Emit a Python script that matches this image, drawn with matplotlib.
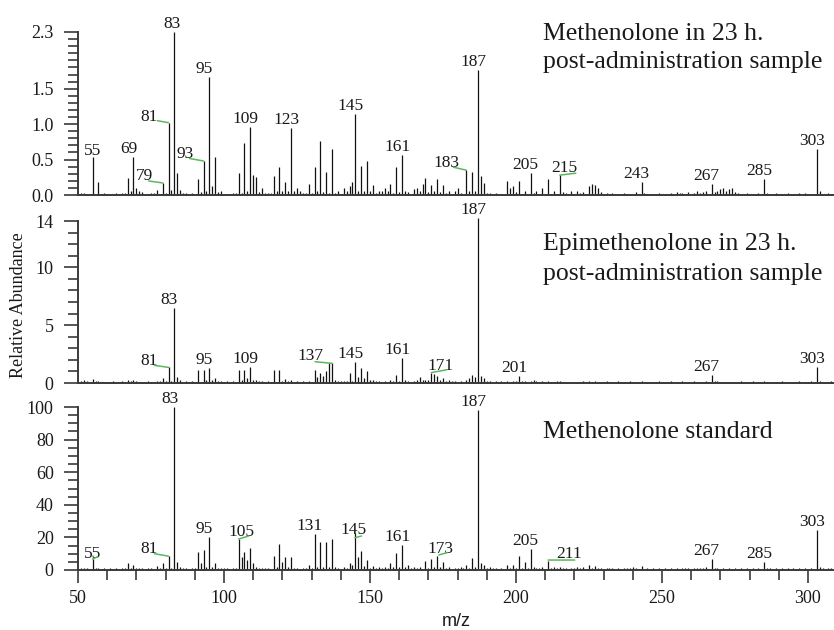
import matplotlib
matplotlib.use('Agg')
import matplotlib.pyplot as plt
from matplotlib.ticker import MultipleLocator, FixedLocator, FixedFormatter
from matplotlib.transforms import offset_copy

# ---------------- data ----------------
top_mz = [51, 52, 53, 55, 57, 59, 60, 63, 65, 66, 67, 68, 69, 70, 71, 72, 74, 75, 76, 77, 79, 80, 81, 82, 83, 84, 85, 86, 87, 89,
          91, 92, 93, 94, 95, 96, 97, 98, 99, 101, 103, 104, 105, 106, 107, 108, 109, 110, 111, 112, 113, 114, 115, 116, 117, 118,
          119, 120, 121, 122, 123, 124, 125, 126, 127, 128, 129, 130, 131, 132, 133, 134, 135, 136, 137, 138, 139, 141, 142, 143,
          144, 145, 146, 147, 148, 149, 150, 151, 152, 153, 154, 155, 156, 157, 158, 159, 160, 161, 162, 163, 165, 166, 167, 168,
          169, 170, 171, 172, 173, 174, 175, 176, 177, 179, 180, 181, 183, 184, 185, 186, 187, 188, 189, 190, 191, 192, 193, 197,
          198, 199, 200, 201, 203, 205, 206, 207, 209, 211, 213, 215, 216, 217, 219, 220, 221, 222, 223, 225, 226, 227, 228, 229,
          231, 232, 233, 235, 237, 238, 241, 243, 244, 245, 247, 249, 251, 253, 254, 255, 256, 257, 258, 259, 261, 262, 263, 264,
          265, 267, 268, 269, 270, 271, 272, 273, 274, 275, 276, 279, 281, 283, 285, 286, 287, 289, 291, 293, 295, 297, 299, 300,
          303, 304, 305, 307, 308]
top_int = [0.03, 0.03, 0.02, 0.53, 0.19, 0.03, 0.02, 0.03, 0.03, 0.03, 0.24, 0.05, 0.53, 0.10, 0.06, 0.04, 0.02, 0.03, 0.03, 0.07,
           0.17, 0.03, 1.02, 0.07, 2.30, 0.31, 0.07, 0.03, 0.03, 0.03, 0.22, 0.04, 0.48, 0.05, 1.66, 0.13, 0.53, 0.04, 0.06, 0.02,
           0.03, 0.03, 0.31, 0.03, 0.74, 0.05, 0.96, 0.28, 0.26, 0.04, 0.10, 0.03, 0.03, 0.03, 0.27, 0.05, 0.39, 0.06, 0.18, 0.05,
           0.95, 0.06, 0.10, 0.05, 0.03, 0.03, 0.15, 0.03, 0.39, 0.05, 0.76, 0.04, 0.32, 0.03, 0.65, 0.03, 0.05, 0.10, 0.05, 0.12,
           0.19, 1.15, 0.05, 0.41, 0.05, 0.48, 0.05, 0.14, 0.03, 0.06, 0.05, 0.10, 0.05, 0.15, 0.03, 0.39, 0.04, 0.56, 0.06, 0.04,
           0.08, 0.10, 0.06, 0.16, 0.24, 0.04, 0.14, 0.05, 0.22, 0.04, 0.14, 0.03, 0.06, 0.06, 0.10, 0.03, 0.35, 0.05, 0.32, 0.05,
           1.76, 0.27, 0.17, 0.03, 0.03, 0.02, 0.03, 0.20, 0.10, 0.12, 0.04, 0.20, 0.06, 0.31, 0.03, 0.06, 0.10, 0.22, 0.06, 0.28,
           0.04, 0.03, 0.05, 0.02, 0.05, 0.03, 0.04, 0.12, 0.15, 0.14, 0.10, 0.04, 0.03, 0.02, 0.03, 0.02, 0.03, 0.02, 0.04, 0.18,
           0.03, 0.02, 0.02, 0.03, 0.02, 0.03, 0.02, 0.04, 0.03, 0.03, 0.02, 0.04, 0.03, 0.05, 0.03, 0.04, 0.05, 0.15, 0.04, 0.06,
           0.09, 0.10, 0.06, 0.08, 0.10, 0.04, 0.03, 0.03, 0.02, 0.03, 0.23, 0.03, 0.02, 0.03, 0.02, 0.03, 0.02, 0.03, 0.03, 0.02,
           0.65, 0.05, 0.02, 0.03, 0.02]

mid_mz = [51, 52, 53, 55, 56, 57, 60, 62, 65, 67, 68, 69, 70, 72, 74, 75, 77, 78, 79, 80, 81, 82, 83, 84, 85, 87, 88, 89, 91, 93,
          94, 95, 96, 97, 98, 99, 100, 101, 103, 104, 105, 106, 107, 108, 109, 110, 111, 112, 113, 114, 115, 116, 117, 119, 120,
          121, 122, 123, 124, 125, 127, 128, 129, 131, 132, 133, 134, 135, 136, 137, 138, 139, 140, 141, 142, 143, 144, 145, 146,
          147, 148, 149, 150, 151, 152, 153, 155, 157, 158, 159, 160, 161, 162, 163, 165, 166, 167, 168, 169, 170, 171, 172, 173,
          174, 175, 176, 177, 178, 179, 181, 183, 184, 185, 186, 187, 188, 189, 190, 191, 193, 194, 195, 197, 199, 200, 201, 202,
          203, 205, 206, 207, 209, 211, 213, 214, 215, 217, 221, 223, 224, 225, 227, 229, 231, 233, 235, 237, 239, 241, 243, 245,
          247, 249, 251, 253, 255, 257, 259, 261, 263, 265, 267, 268, 269, 271, 275, 277, 279, 281, 283, 285, 289, 291, 295, 297,
          299, 301, 303, 304, 306, 308]
mid_int = [0.2, 0.3, 0.15, 0.35, 0.2, 0.2, 0.1, 0.15, 0.15, 0.25, 0.2, 0.3, 0.15, 0.1, 0.15, 0.1, 0.2, 0.15, 0.4, 0.2, 1.35, 0.2,
           6.5, 0.5, 0.25, 0.15, 0.1, 0.2, 1.1, 1.1, 0.25, 1.27, 0.3, 0.4, 0.15, 0.2, 0.1, 0.15, 0.15, 0.1, 1.1, 0.3, 1.1, 0.4, 1.4,
           0.3, 0.25, 0.15, 0.2, 0.1, 0.15, 0.1, 1.1, 1.1, 0.2, 0.35, 0.2, 0.25, 0.1, 0.2, 0.15, 0.1, 0.2, 1.1, 0.5, 0.85, 0.6, 1.0,
           1.7, 1.7, 0.3, 0.2, 0.15, 0.2, 0.15, 0.9, 0.2, 1.84, 0.5, 1.3, 0.4, 1.0, 0.25, 0.3, 0.15, 0.2, 0.15, 0.3, 0.15, 0.7, 0.2,
           2.2, 0.3, 0.2, 0.15, 0.3, 0.5, 0.3, 0.3, 0.25, 0.9, 0.8, 0.6, 0.3, 0.4, 0.2, 0.3, 0.15, 0.2, 0.15, 0.25, 0.4, 0.7, 0.5,
           14.3, 0.6, 0.4, 0.15, 0.2, 0.15, 0.1, 0.15, 0.2, 0.15, 0.2, 0.6, 0.15, 0.2, 0.15, 0.3, 0.2, 0.15, 0.2, 0.1, 0.15, 0.15,
           0.1, 0.1, 0.15, 0.1, 0.2, 0.15, 0.1, 0.15, 0.1, 0.15, 0.1, 0.15, 0.1, 0.15, 0.1, 0.1, 0.15, 0.1, 0.15, 0.1, 0.15, 0.1,
           0.15, 0.1, 0.2, 0.7, 0.15, 0.2, 0.1, 0.1, 0.15, 0.1, 0.15, 0.1, 0.15, 0.1, 0.15, 0.1, 0.15, 0.1, 0.15, 1.4, 0.2, 0.1, 0.15]

bot_mz = [51, 52, 53, 55, 56, 57, 59, 61, 63, 65, 66, 67, 68, 69, 70, 71, 72, 74, 75, 77, 78, 79, 80, 81, 82, 83, 84, 85, 86, 87,
          89, 90, 91, 92, 93, 94, 95, 96, 97, 98, 99, 100, 101, 103, 104, 105, 106, 107, 108, 109, 110, 111, 112, 113, 114, 115,
          117, 118, 119, 120, 121, 122, 123, 124, 125, 127, 128, 129, 130, 131, 132, 133, 134, 135, 136, 137, 138, 139, 141, 142,
          143, 144, 145, 146, 147, 148, 149, 150, 151, 152, 153, 154, 155, 156, 157, 158, 159, 160, 161, 162, 163, 164, 165, 166,
          167, 169, 170, 171, 172, 173, 174, 175, 176, 177, 179, 180, 181, 182, 183, 184, 185, 186, 187, 188, 189, 190, 191, 192,
          193, 195, 197, 198, 199, 200, 201, 202, 203, 204, 205, 206, 207, 208, 209, 211, 212, 213, 214, 215, 216, 217, 219, 220,
          221, 222, 223, 225, 226, 227, 228, 229, 231, 232, 233, 235, 237, 238, 239, 240, 241, 243, 245, 247, 249, 251, 253, 255,
          257, 258, 259, 261, 262, 263, 264, 265, 267, 268, 269, 271, 273, 275, 277, 279, 281, 283, 285, 286, 287, 289, 291, 293,
          295, 297, 299, 301, 303, 304, 305, 307, 308]
bot_int = [1, 1.5, 1, 6.7, 1, 1.5, 1, 1, 1, 1.5, 1, 4.5, 1, 3, 1.5, 1, 1, 1, 1, 2.5, 1.2, 4, 1.5, 8.5, 1.5, 100, 5, 2, 1, 1, 1.5,
           1, 11.2, 4, 12.3, 2, 20.4, 2, 4.5, 1.5, 1, 1, 1, 1.5, 1, 19, 8, 11.2, 6, 13.3, 4, 2, 1, 1.5, 1, 1, 8.6, 2, 15.7, 5, 8, 2,
           8, 1.5, 1.5, 1.5, 1, 3, 1, 22, 2, 17.4, 2, 17.4, 2, 18.8, 2, 1.5, 2, 1.5, 4.5, 3, 22.5, 8, 11.7, 2.5, 6, 1.5, 2.5, 1, 2,
           1, 2, 1, 4.5, 2, 10.2, 2, 15.3, 2, 3, 1, 2, 1, 2, 5.3, 1.5, 6.7, 2, 8.6, 2, 5, 1, 2, 1.5, 1, 2, 1, 3, 1.5, 7.6, 2, 98, 4,
           3, 1.5, 2, 1, 1.5, 1.5, 3, 1.5, 3, 1, 8.6, 1.5, 5, 1, 12.9, 2, 1.5, 1, 2, 5.5, 1.5, 2, 1, 2, 1, 1.5, 1, 1, 2, 1, 2, 3, 1,
           2.5, 1, 1.5, 1, 1, 1.5, 1, 1.5, 1, 1.5, 2, 1, 2.5, 1, 1, 1, 1.5, 1, 1.5, 1, 1, 1.5, 1, 1.5, 1, 1.5, 2, 6.5, 1.5, 1, 1, 1,
           1, 1, 1, 1.5, 1, 5, 1, 1.5, 1, 1, 1, 1, 1, 1, 1, 24.5, 2, 1.5, 1, 1]

top_labels = [55, 69, 79, 81, 83, 93, 95, 109, 123, 145, 161, 183, 187, 205, 215, 243, 267, 285, 303]
mid_labels = [81, 83, 95, 109, 137, 145, 161, 171, 187, 201, 267, 303]
bot_labels = [55, 81, 83, 95, 105, 131, 145, 161, 173, 187, 205, 211, 267, 285, 303]

top_ticks = [0, 0.5, 1.0, 1.5, 2.3]
top_ticklabels = ['0.0', '0.5', '1.0', '1.5', '2.3']
mid_ticks = [0, 5, 10, 14]
mid_ticklabels = ['0', '5', '10', '14']
bot_ticks = [0, 20, 40, 60, 80, 100]
bot_ticklabels = ['0', '20', '40', '60', '80', '100']

titles = [["Methenolone in 23 h.", "post-administration sample"],
          ["Epimethenolone in 23 h.", "post-administration sample"],
          ["Methenolone standard"]]

# ---------------- layout (pixels) ----------------
W, H = 834, 630
SERIF = 'Liberation Serif'
SANS = 'Liberation Sans'
TXT = '#1a1a1a'
SPINE = '#3a3a3a'
GREEN = '#5cb85c'

# label placement: (label dx, label dy, line start dx, dy, line end dx, dy) in pixels from peak top
special_top = {55: (0, 2), 79: (-18, 3, 0, 0, -14, 2), 81: (-19, 2, 0, 0, -11, 2), 93: (-18, 3, 0, 0, -14, 2.5),
               183: (-20, 3, 0, 0, -13, 3), 215: (5, 3, 0, 0, 16, 2), 83: (-2, 4)}
special_mid = {81: (-19, 2, 0, 0, -14, 2), 137: (-22, 3, 0, 0, -17, 1.6), 171: (9, 3, 0, 0, 15, 2.7)}
special_bot = {55: (0, 1, 0, 0, 5, 2.3), 81: (-19, 3, 0, 0, -14, 2.4), 105: (3, 3, 0, 0, 10, 3),
               145: (-1.5, -1, -0.5, -4.4, 6, -2.7), 173: (3.3, 2.7, 1.6, 1, 10, 3.3),
               211: (21, 2.7, 0, 1, 26.6, 1), 83: (-4, 4)}

panels = [
    dict(mz=top_mz, y=top_int, labels=top_labels, special=special_top, ticks=top_ticks, tl=top_ticklabels,
         ylim=2.3, minor=0.1, top=32, bottom=195),
    dict(mz=mid_mz, y=mid_int, labels=mid_labels, special=special_mid, ticks=mid_ticks, tl=mid_ticklabels,
         ylim=14, minor=1, top=221, bottom=383),
    dict(mz=bot_mz, y=bot_int, labels=bot_labels, special=special_bot, ticks=bot_ticks, tl=bot_ticklabels,
         ylim=100, minor=5, top=407, bottom=570),
]
title_base = [(40, 68), (250, 280), (438,)]

fig = plt.figure(figsize=(W / 100, H / 100), dpi=100)
left_px = 78
xmax = 50 + (W - left_px) / 2.92

for i, p in enumerate(panels):
    ax = fig.add_axes([left_px / W, 1 - p['bottom'] / H, (W - left_px) / W, (p['bottom'] - p['top']) / H])
    ax.set_xlim(50, xmax)
    ax.set_ylim(0, p['ylim'])
    ax.vlines(p['mz'], 0, p['y'], colors='#111111', linewidth=0.9, clip_on=False)
    for s in ['top', 'right']:
        ax.spines[s].set_visible(False)
    for s in ['left', 'bottom']:
        ax.spines[s].set_color(SPINE)
        ax.spines[s].set_linewidth(1.4)
    ax.yaxis.set_major_locator(FixedLocator(p['ticks']))
    ax.yaxis.set_major_formatter(FixedFormatter(p['tl']))
    ax.yaxis.set_minor_locator(MultipleLocator(p['minor']))
    ax.tick_params(axis='y', which='major', direction='out', length=10, width=1.2, color=SPINE,
                   pad=7.5, labelsize=13, labelcolor=TXT)
    ax.tick_params(axis='y', which='minor', direction='out', length=7.2, width=1.2, color=SPINE)
    for t in ax.get_yticklabels():
        t.set_family(SERIF)
    if i < 2:
        ax.tick_params(axis='x', which='both', bottom=False, labelbottom=False)
    else:
        ax.xaxis.set_major_locator(MultipleLocator(50))
        ax.xaxis.set_minor_locator(MultipleLocator(10))
        ax.tick_params(axis='x', which='major', direction='out', length=9.5, width=1.2, color=SPINE,
                       pad=5, labelsize=13, labelcolor=TXT)
        ax.tick_params(axis='x', which='minor', direction='out', length=7, width=1.2, color=SPINE)
        for t in ax.get_xticklabels():
            t.set_family(SERIF)
    ax.patch.set_visible(False)

    yl = dict(zip(p['mz'], p['y']))
    for m in p['labels']:
        v = yl[m]
        sp = p['special'].get(m)
        if sp is None:
            dx, dy = -5, 4
        else:
            dx, dy = sp[0], sp[1]
        ax.annotate(str(m), xy=(m, v), xytext=(dx, dy), textcoords='offset pixels', ha='center',
                    va='baseline', fontsize=12.5, family=SERIF, color=TXT, annotation_clip=False)
        if sp is not None and len(sp) == 6:
            start = offset_copy(ax.transData, fig=fig, x=sp[2], y=sp[3], units='dots')
            end = offset_copy(ax.transData, fig=fig, x=sp[4], y=sp[5], units='dots')
            ax.annotate('', xy=(m, v), xycoords=start, xytext=(m, v), textcoords=end,
                        annotation_clip=False,
                        arrowprops=dict(arrowstyle='-', color=GREEN, lw=1.1, shrinkA=0, shrinkB=0))
    for line, base in zip(titles[i], title_base[i]):
        fig.text(543 / W, 1 - base / H, line, ha='left', va='baseline', fontsize=18.5, family=SERIF, color=TXT)

fig.text(19 / W, 1 - 305 / H, 'Relative Abundance', rotation=90, ha='center', va='center',
         fontsize=13, family=SERIF, color=TXT)
fig.text(456 / W, 1 - 626 / H, 'm/z', ha='center', va='baseline', fontsize=13, family=SANS, color=TXT)

fig.savefig('out.png', dpi=100)
